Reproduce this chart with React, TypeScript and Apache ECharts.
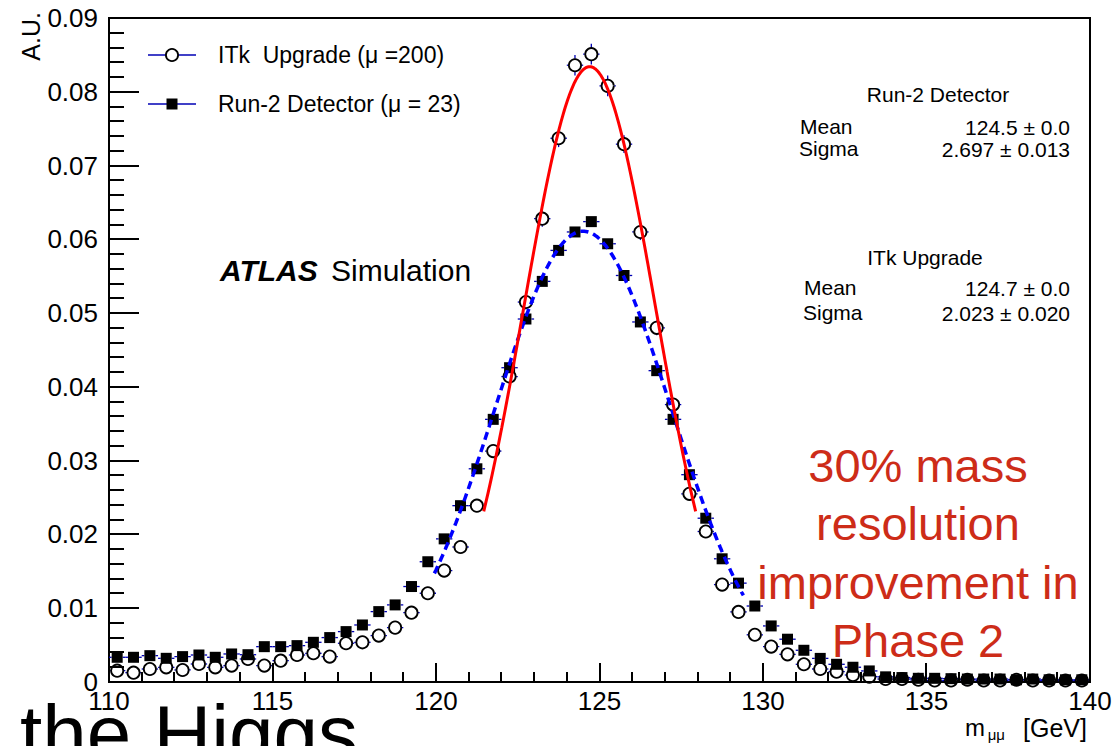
import React, { useEffect, useRef } from "react";
import * as echarts from "echarts";

// Histogram binning of the dimuon invariant mass (GeV)
const BIN_START = 110;
const BIN_WIDTH = 0.5;

// ITk Upgrade (mu = 200), normalised entries per bin
const itkValues = [
  0.00154, 0.00127, 0.00176, 0.00199, 0.00163, 0.00244, 0.00199, 0.00222, 0.00312, 0.00222,
  0.00289, 0.00366, 0.00389, 0.00344, 0.00525, 0.00538, 0.00629, 0.00737, 0.0094, 0.01203,
  0.0151, 0.0183, 0.0239, 0.0313, 0.0414, 0.0515, 0.0628, 0.0737, 0.0836, 0.0851,
  0.0808, 0.0729, 0.061, 0.048, 0.0376, 0.0255, 0.0204, 0.0132, 0.0095, 0.0064,
  0.0048, 0.00375, 0.0024, 0.00176, 0.0014, 0.00095, 0.00072, 0.0004, 0.0004, 0.0003,
  0.0002, 0.0002, 0.0003, 0.0002, 0.0002, 0.0003, 0.0002, 0.0002, 0.0002, 0.0002,
];
const itkErrors = [
  0.0002, 0.0002, 0.0002, 0.0002, 0.0002, 0.0002, 0.0002, 0.0002, 0.0003, 0.0002,
  0.0003, 0.0003, 0.0003, 0.0003, 0.0003, 0.0003, 0.0004, 0.0004, 0.0005, 0.0005,
  0.0006, 0.0006, 0.0007, 0.0008, 0.0009, 0.001, 0.0011, 0.0012, 0.0014, 0.0014,
  0.0014, 0.0012, 0.0011, 0.001, 0.0009, 0.0008, 0.0007, 0.0005, 0.0005, 0.0004,
  0.0003, 0.0003, 0.0002, 0.0002, 0.0002, 0.0001, 0.0001, 0.0001, 0.0001, 0.0001,
  0.0001, 0.0001, 0.0001, 0.0001, 0.0001, 0.0001, 0.0001, 0.0001, 0.0001, 0.0001,
];

// Run-2 Detector (mu = 23), normalised entries per bin
const run2Values = [
  0.00335, 0.00335, 0.00357, 0.00321, 0.00344, 0.00366, 0.00335, 0.0038, 0.0037, 0.00479,
  0.00479, 0.00493, 0.00538, 0.00602, 0.00683, 0.00773, 0.00954, 0.01045, 0.01294, 0.0163,
  0.0194, 0.0239, 0.0289, 0.0356, 0.0426, 0.0492, 0.0543, 0.0585, 0.061, 0.0624,
  0.0594, 0.0551, 0.0488, 0.0422, 0.0356, 0.0281, 0.0222, 0.0167, 0.0134, 0.0103,
  0.0076, 0.0058, 0.0043, 0.0032, 0.0024, 0.002, 0.0015, 0.0007, 0.0006, 0.0005,
  0.0005, 0.00045, 0.0004, 0.0004, 0.0004, 0.0003, 0.0004, 0.0003, 0.0003, 0.0003,
];
const run2Errors = [
  0.0001, 0.0001, 0.0001, 0.0001, 0.0001, 0.0001, 0.0001, 0.0001, 0.0001, 0.0002,
  0.0002, 0.0002, 0.0002, 0.0002, 0.0002, 0.0002, 0.0002, 0.0002, 0.0003, 0.0003,
  0.0003, 0.0003, 0.0004, 0.0004, 0.0004, 0.0005, 0.0005, 0.0005, 0.0005, 0.0005,
  0.0005, 0.0005, 0.0005, 0.0004, 0.0004, 0.0004, 0.0003, 0.0003, 0.0003, 0.0002,
  0.0002, 0.0002, 0.0002, 0.0001, 0.0001, 0.0001, 0.0001, 0.0001, 0.0001, 0.0001,
  0.0001, 0.0001, 0.0001, 0.0001, 0.0001, 0.0001, 0.0001, 0.0001, 0.0001, 0.0001,
];

// Gaussian fit results
const run2Fit = { title: "Run-2 Detector", mean: 124.5, meanErr: 0.0, sigma: 2.697, sigmaErr: 0.013, amplitude: 0.0611, from: 119.95, to: 129.4 };
const itkFit = { title: "ITk Upgrade", mean: 124.7, meanErr: 0.0, sigma: 2.023, sigmaErr: 0.02, amplitude: 0.0834, from: 121.46, to: 127.94 };

// Axis ranges and tick divisions
const X_MIN = 110;
const X_MAX = 140;
const X_STEP = 5;
const X_MINOR = 1;
const Y_MIN = 0;
const Y_MAX = 0.09;
const Y_STEP = 0.01;
const Y_MINOR = 0.002;

const legendItems = [
  { label: "ITk  Upgrade (\u03bc =200)", marker: "circle" },
  { label: "Run-2 Detector (\u03bc = 23)", marker: "square" },
];

const annotationLines = ["30% mass", "resolution", "improvement in", "Phase 2"];

const FONT = "'Liberation Sans', Arial, Helvetica, sans-serif";
const ERR_BLUE = "#0000b4";
const TICK_COLOR = "#000";

function gaussianCurve(fit: typeof itkFit) {
  const pts: number[][] = [];
  const n = 200;
  for (let i = 0; i <= n; i++) {
    const x = fit.from + ((fit.to - fit.from) * i) / n;
    const z = (x - fit.mean) / fit.sigma;
    pts.push([x, fit.amplitude * Math.exp(-0.5 * z * z)]);
  }
  return pts;
}

function pointSeries(name: string, values: number[], errors: number[], marker: string) {
  const data = values.map((v, i) => [BIN_START + (i + 0.5) * BIN_WIDTH, v, errors[i]]);
  return {
    type: "custom",
    name,
    data,
    dimensions: ["x", "y", "err"],
    encode: { x: 0, y: 1 },
    clip: false,
    z: 3,
    renderItem: (_params: any, api: any) => {
      const x = api.value(0);
      const y = api.value(1);
      const e = api.value(2);
      const c = api.coord([x, y]);
      const l = api.coord([x - BIN_WIDTH / 2, y]);
      const r = api.coord([x + BIN_WIDTH / 2, y]);
      const top = api.coord([x, y + e]);
      const bot = api.coord([x, Math.max(0, y - e)]);
      const R = marker === "circle" ? 6.5 : 5.5;
      const bar = { stroke: ERR_BLUE, lineWidth: 1.3 };
      const children: any[] = [
        { type: "line", shape: { x1: l[0], y1: c[1], x2: c[0] - R, y2: c[1] }, style: bar },
        { type: "line", shape: { x1: c[0] + R, y1: c[1], x2: r[0], y2: c[1] }, style: bar },
      ];
      if (c[1] - top[1] > R) {
        children.push({ type: "line", shape: { x1: c[0], y1: top[1], x2: c[0], y2: c[1] - R }, style: bar });
      }
      if (bot[1] - c[1] > R) {
        children.push({ type: "line", shape: { x1: c[0], y1: c[1] + R, x2: c[0], y2: bot[1] }, style: bar });
      }
      if (marker === "circle") {
        children.push({ type: "circle", shape: { cx: c[0], cy: c[1], r: 6.1 }, style: { fill: "none", stroke: "#000", lineWidth: 1.8 } });
      } else {
        children.push({ type: "rect", shape: { x: c[0] - 5.5, y: c[1] - 5.5, width: 11, height: 11 }, style: { fill: "#000" } });
      }
      return { type: "group", children };
    },
  };
}

// Inside tick marks along one axis: each item is [x, y, isMajor]
function tickSeries(axis: "x" | "y", majorLen: number, minorLen: number) {
  const data: number[][] = [];
  if (axis === "x") {
    const n = Math.round((X_MAX - X_MIN) / X_MINOR);
    const per = Math.round(X_STEP / X_MINOR);
    for (let i = 0; i <= n; i++) data.push([X_MIN + i * X_MINOR, Y_MIN, i % per === 0 ? 1 : 0]);
  } else {
    const n = Math.round((Y_MAX - Y_MIN) / Y_MINOR);
    const per = Math.round(Y_STEP / Y_MINOR);
    for (let i = 0; i <= n; i++) data.push([X_MIN, Y_MIN + i * Y_MINOR, i % per === 0 ? 1 : 0]);
  }
  return {
    type: "custom",
    name: axis + " ticks",
    data,
    dimensions: ["x", "y", "major"],
    encode: { x: 0, y: 1 },
    clip: false,
    silent: true,
    z: 6,
    renderItem: (_params: any, api: any) => {
      const p = api.coord([api.value(0), api.value(1)]);
      const len = api.value(2) ? majorLen : minorLen;
      const shape =
        axis === "x"
          ? { x: Math.round(p[0]) - 1, y: p[1] - len, width: 2, height: len }
          : { x: p[0], y: Math.round(p[1]) - 1, width: len, height: 2 };
      return { type: "rect", shape, style: { fill: TICK_COLOR } };
    },
  };
}

function text(x: number, y: number, t: string, size: number, opts: any = {}) {
  return {
    type: "text",
    x,
    y,
    rotation: opts.rotation || 0,
    z: 10,
    style: {
      text: t,
      fill: opts.color || "#000",
      font: `${opts.style || "normal"} ${opts.weight || "normal"} ${size}px ${FONT}`,
      textAlign: opts.align || "left",
      textVerticalAlign: opts.valign || "middle",
    },
  };
}

function buildGraphics() {
  const g: any[] = [];
  // legend
  legendItems.forEach((item, i) => {
    const y = 55 + i * 49;
    g.push({ type: "line", z: 10, shape: { x1: 148, y1: y, x2: 196, y2: y }, style: { stroke: ERR_BLUE, lineWidth: 1.3 } });
    if (item.marker === "circle") {
      g.push({ type: "circle", z: 11, shape: { cx: 172, cy: y, r: 6.1 }, style: { fill: "#fff", stroke: "#000", lineWidth: 1.8 } });
    } else {
      g.push({ type: "rect", z: 11, shape: { x: 166.5, y: y - 5.5, width: 11, height: 11 }, style: { fill: "#000" } });
    }
    g.push(text(218, y, item.label, 23));
  });

  // fit statistics
  const blocks = [
    { fit: run2Fit, titleX: 938, titleY: 94, labelX: 800, meanY: 126, sigmaY: 148 },
    { fit: itkFit, titleX: 925, titleY: 257, labelX: 804, meanY: 287, sigmaY: 312 },
  ];
  blocks.forEach((b) => {
    g.push(text(b.titleX, b.titleY, b.fit.title, 21, { align: "center" }));
    g.push(text(b.labelX, b.meanY, "Mean", 21));
    g.push(text(b.labelX - 1, b.sigmaY, "Sigma", 21));
    g.push(text(1070, b.meanY + 1, `${b.fit.mean.toFixed(1)} \u00b1 ${b.fit.meanErr.toFixed(1)}`, 21, { align: "right" }));
    g.push(text(1070, b.sigmaY + 1, `${b.fit.sigma.toFixed(3)} \u00b1 ${b.fit.sigmaErr.toFixed(3)}`, 21, { align: "right" }));
  });

  // ATLAS label
  g.push(text(220, 270, "ATLAS", 30, { style: "italic", weight: "bold" }));
  g.push(text(331, 270, "Simulation", 30));

  // annotation
  annotationLines.forEach((line, i) => {
    g.push(text(918, 465 + i * 58.5, line, 47, { align: "center", color: "#cd2c18" }));
  });

  // axis titles
  g.push(text(43, 12, "A.U.", 25, { rotation: Math.PI / 2, align: "right", valign: "bottom" }));
  g.push(text(1087, 728, "[GeV]", 25, { align: "right" }));
  g.push(text(1005, 734, "\u03bc\u03bc", 15, { align: "right" }));
  g.push(text(965, 727, "m", 24));

  // slide title behind the plot
  g.push(text(20, 733, "the Higgs", 80));
  return g;
}

export default function App() {
  const ref = useRef<HTMLDivElement>(null);

  useEffect(() => {
    if (!ref.current) return;
    const chart = echarts.init(ref.current, undefined, { renderer: "svg" });
    const axisLabel = { color: "#000", fontSize: 26, fontFamily: FONT };
    chart.setOption({
      animation: false,
      backgroundColor: "#fff",
      grid: { left: 109, right: 28, top: 18, bottom: 64, show: true, borderColor: "#000", borderWidth: 2, backgroundColor: "rgba(0,0,0,0)" },
      xAxis: {
        type: "value",
        min: X_MIN,
        max: X_MAX,
        interval: X_STEP,
        axisLine: { show: true, onZero: false, lineStyle: { color: "#000", width: 2 } },
        axisTick: { show: false },
        splitLine: { show: false },
        axisLabel: { ...axisLabel, margin: 6 },
      },
      yAxis: {
        type: "value",
        min: Y_MIN,
        max: Y_MAX,
        interval: Y_STEP,
        axisLine: { show: true, onZero: false, lineStyle: { color: "#000", width: 2 } },
        axisTick: { show: false },
        splitLine: { show: false },
        axisLabel: { ...axisLabel, margin: 11 },
      },
      series: [
        tickSeries("x", 19, 10),
        tickSeries("y", 30, 15),
        pointSeries("Run-2 Detector", run2Values, run2Errors, "square"),
        pointSeries("ITk Upgrade", itkValues, itkErrors, "circle"),
        {
          type: "line",
          name: "Run-2 fit",
          data: gaussianCurve(run2Fit),
          showSymbol: false,
          z: 4,
          lineStyle: { color: "#0000ff", width: 3.5, type: [8, 5] },
        },
        {
          type: "line",
          name: "ITk fit",
          data: gaussianCurve(itkFit),
          showSymbol: false,
          z: 4,
          lineStyle: { color: "#ff0000", width: 3 },
        },
      ],
      graphic: buildGraphics(),
    });
    return () => chart.dispose();
  }, []);

  return (
    <div
      ref={ref}
      style={{ position: "absolute", left: 0, top: 0, width: 1118, height: 746, background: "#fff", overflow: "hidden" }}
    />
  );
}
